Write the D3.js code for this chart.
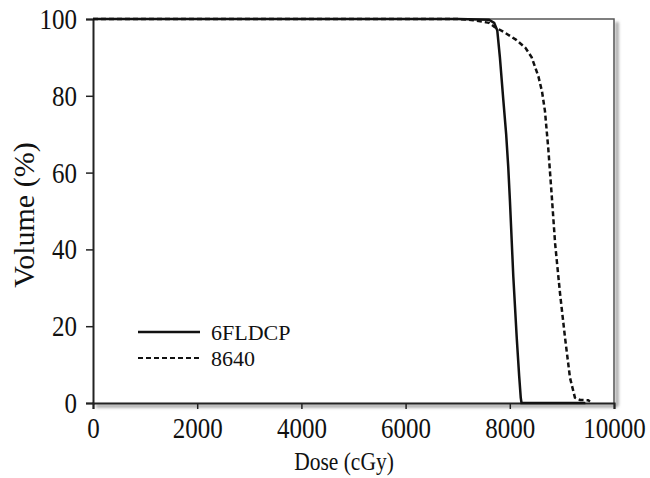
<!DOCTYPE html>
<html>
<head>
<meta charset="utf-8">
<script src="https://cdn.jsdelivr.net/npm/d3@7"></script>
<style>
  body { margin: 0; background: #fff; }
  svg text { font-family: 'Liberation Serif', 'DejaVu Serif', serif !important; }
</style>
</head>
<body>
<svg id="chart"></svg>
<script>
var width = 650,
    height = 478;

// dose (cGy) and volume (%)
var dose6FLDCP = [0, 7000, 7600, 7700, 7760, 7810, 7875, 7930, 7970, 8003, 8067, 8133, 8180, 8210, 8225, 9450];
var vol6FLDCP  = [100, 100, 99.8, 99, 97, 90, 79, 70, 61.5, 52.5, 33, 17, 7, 1.4, 0, 0];

var dose8640 = [0, 7000, 7300, 7600, 7700, 7900, 8130, 8300, 8420, 8550, 8620, 8675, 8740, 8805, 8870, 8965, 9060, 9155, 9250, 9350, 9505, 9540];
var vol8640  = [100, 100, 99.7, 99, 98, 96.5, 94.5, 92.5, 90, 85, 81, 76, 66, 54, 41.5, 28.4, 17, 6.6, 1.4, 0.8, 0.7, 0.4];

var seriesNames = ['6FLDCP', '8640'];
var xTicks = [0, 2000, 4000, 6000, 8000, 10000];
var yTicks = [0, 20, 40, 60, 80, 100];

var margin = {left: 93, right: 36, top: 19, bottom: 75};

var svg = d3.select('#chart')
    .attr('width', width)
    .attr('height', height);

var x = d3.scaleLinear().domain([0, 10000]).range([margin.left, width - margin.right]);
var y = d3.scaleLinear().domain([0, 100]).range([height - margin.bottom, margin.top]);

var defs = svg.append('defs');
var f = defs.append('filter').attr('id', 'shadow')
    .attr('x', '-10%').attr('y', '-10%').attr('width', '130%').attr('height', '130%');
f.append('feGaussianBlur').attr('stdDeviation', 1.8);

// soft shadow under the frame
var sh = svg.append('g').attr('filter', 'url(#shadow)').attr('stroke', '#999').attr('stroke-width', 3).attr('fill', 'none');
sh.append('line').attr('x1', x(0) + 3).attr('x2', x(10000) + 3).attr('y1', y(0) + 3).attr('y2', y(0) + 3);
sh.append('line').attr('x1', x(10000) + 3).attr('x2', x(10000) + 3).attr('y1', y(100) + 3).attr('y2', y(0) + 3);

// frame top + right
svg.append('path')
  .attr('d', 'M' + x(0) + ',' + y(100) + 'H' + x(10000) + 'V' + y(0))
  .attr('fill', 'none')
  .attr('stroke', '#555')
  .attr('stroke-width', 1.5);

// axes
var xAxis = svg.append('g')
  .attr('transform', 'translate(0,' + y(0) + ')')
  .call(d3.axisBottom(x).tickValues(xTicks).tickSize(6).tickFormat(d3.format('d')));

var yAxis = svg.append('g')
  .attr('transform', 'translate(' + x(0) + ',0)')
  .call(d3.axisLeft(y).tickValues(yTicks).tickSize(7).tickFormat(d3.format('d')));

[xAxis, yAxis].forEach(function(a) {
  a.attr('font-family', null);
  a.select('.domain').attr('stroke', '#222').attr('stroke-width', 2);
  a.selectAll('.tick line').attr('stroke', '#222').attr('stroke-width', 1.5);
  a.selectAll('.tick text')
    .attr('fill', '#111')
    .attr('font-size', 25)
    .attr('x', 0).attr('y', 0).attr('dy', null);
});
// labels in the picture are a little taller than wide
xAxis.selectAll('.tick text').attr('transform', 'translate(0,35) scale(1,1.14)');
yAxis.selectAll('.tick text').attr('transform', 'translate(-16,9.5) scale(1,1.14)');

// curves
var line = d3.line()
  .x(function(d) { return x(d[0]); })
  .y(function(d) { return y(d[1]); });

var data6 = dose6FLDCP.map(function(d, i) { return [d, vol6FLDCP[i]]; });
var data8 = dose8640.map(function(d, i) { return [d, vol8640[i]]; });

svg.append('path')
  .datum(data8)
  .attr('d', line)
  .attr('fill', 'none')
  .attr('stroke', '#111')
  .attr('stroke-width', 2.5)
  .attr('stroke-dasharray', '5,3');

svg.append('path')
  .datum(data6)
  .attr('d', line)
  .attr('fill', 'none')
  .attr('stroke', '#111')
  .attr('stroke-width', 2.5);

// axis titles
svg.append('text')
  .text('Dose (cGy)')
  .attr('transform', 'translate(344,470) scale(1,1.18)')
  .attr('font-size', 21.5)
  .attr('fill', '#111')
  .style('text-anchor', 'middle');

svg.append('text')
  .text('Volume (%)')
  .attr('transform', 'translate(34,215) rotate(-90)')
  .attr('font-size', 30)
  .attr('fill', '#111')
  .style('text-anchor', 'middle');

// legend
var legend = svg.append('g');
seriesNames.forEach(function(name, i) {
  var ly = 332 + i * 26;
  legend.append('line')
    .attr('x1', 138).attr('x2', 200)
    .attr('y1', ly).attr('y2', ly)
    .attr('stroke', '#111')
    .attr('stroke-width', i === 0 ? 2.5 : 2)
    .attr('stroke-dasharray', i === 0 ? null : '5,3');
  legend.append('text')
    .text(name)
    .attr('x', 211)
    .attr('y', ly + 8)
    .attr('font-size', 22)
    .attr('fill', '#111');
});
</script>
</body>
</html>
